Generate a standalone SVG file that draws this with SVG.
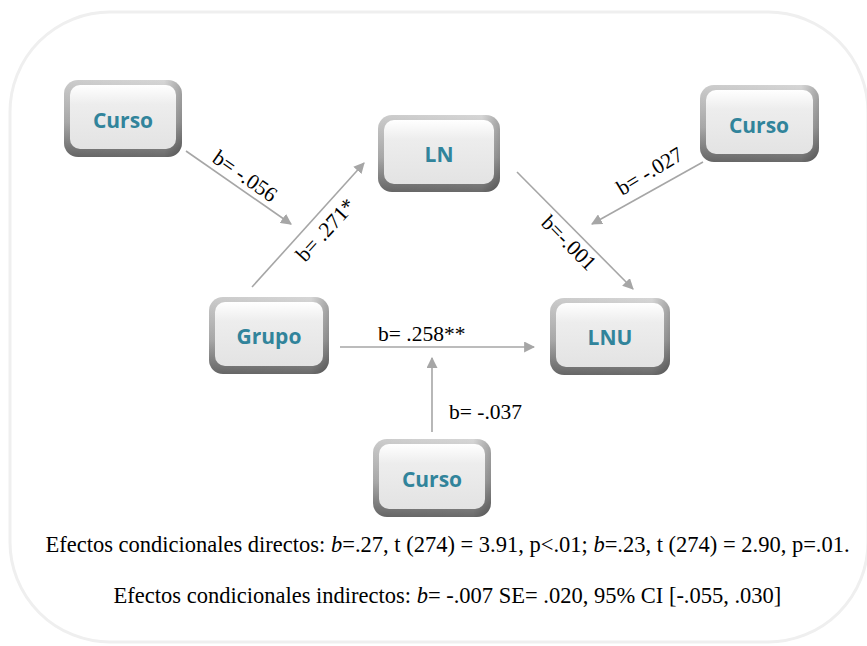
<svg xmlns="http://www.w3.org/2000/svg" width="867" height="646" viewBox="0 0 867 646">
<defs>
<linearGradient id="bevel" x1="0" y1="0" x2="0" y2="1">
<stop offset="0" stop-color="#d6d6d6"/>
<stop offset="0.55" stop-color="#b0b0b0"/>
<stop offset="1" stop-color="#6a6a6a"/>
</linearGradient>
<linearGradient id="side" x1="0" y1="0" x2="1" y2="0">
<stop offset="0" stop-color="#000" stop-opacity="0.05"/>
<stop offset="0.85" stop-color="#000" stop-opacity="0"/>
<stop offset="1" stop-color="#000" stop-opacity="0.22"/>
</linearGradient>
<linearGradient id="face" x1="0" y1="0" x2="0" y2="1">
<stop offset="0" stop-color="#ffffff"/>
<stop offset="0.3" stop-color="#ededed"/>
<stop offset="1" stop-color="#e3e3e3"/>
</linearGradient>
<marker id="ah" viewBox="0 0 10 10" refX="9" refY="5" markerWidth="11" markerHeight="11" markerUnits="userSpaceOnUse" orient="auto">
<path d="M0,0 L10,5 L0,10 z" fill="#a6a6a6"/>
</marker>
<style>
.frame{fill:none;stroke:#efefef;stroke-width:3}
.outer{fill:url(#bevel)}
.shade{fill:url(#side)}
.face{fill:url(#face)}
.lbl{font-family:"Open Sans","Liberation Sans",sans-serif;font-weight:bold;font-size:21px;fill:#31849b;text-anchor:middle}
.conn{stroke:#a6a6a6;stroke-width:1.6;fill:none;marker-end:url(#ah)}
.b{font-family:"Liberation Serif","Times New Roman",serif;font-size:21.5px;fill:#000}
.note{font-family:"Liberation Serif","Times New Roman",serif;font-size:22.5px;fill:#000;text-anchor:middle}
</style>
</defs>
<rect width="867" height="646" fill="#ffffff"/>
<rect class="frame" x="10" y="12" width="858" height="630" rx="100" ry="100"/>

<g id="connectors">
<line class="conn" x1="186" y1="151" x2="291" y2="224"/>
<text class="b" transform="translate(211,161) rotate(35)">b= -.056</text>
<line class="conn" x1="252" y1="287" x2="364" y2="163"/>
<text class="b" transform="translate(305,263) rotate(-47.5)">b= .271*</text>
<line class="conn" x1="517" y1="172" x2="633" y2="289"/>
<text class="b" transform="translate(540,224) rotate(45)">b=-.001</text>
<line class="conn" x1="703" y1="162" x2="592" y2="224"/>
<text class="b" transform="translate(622,196) rotate(-31)">b= -.027</text>
<line class="conn" x1="340" y1="347" x2="534" y2="347"/>
<text class="b" x="378" y="341">b= .258**</text>
<line class="conn" x1="432" y1="432" x2="432" y2="358"/>
<text class="b" x="449" y="419">b= -.037</text>
</g>

<g id="curso-tl">
<rect class="outer" x="64" y="80" width="118" height="77" rx="14"/>
<rect class="shade" x="64" y="80" width="118" height="77" rx="14"/>
<rect class="face" x="70" y="85" width="106" height="64" rx="10"/>
<text class="lbl" x="123" y="128">Curso</text>
</g>
<g id="ln">
<rect class="outer" x="378" y="115" width="122" height="77" rx="14"/>
<rect class="shade" x="378" y="115" width="122" height="77" rx="14"/>
<rect class="face" x="384" y="120" width="110" height="64" rx="10"/>
<text class="lbl" x="439" y="162">LN</text>
</g>
<g id="curso-tr">
<rect class="outer" x="700" y="85" width="119" height="77" rx="14"/>
<rect class="shade" x="700" y="85" width="119" height="77" rx="14"/>
<rect class="face" x="706" y="90" width="107" height="64" rx="10"/>
<text class="lbl" x="759" y="133">Curso</text>
</g>
<g id="grupo">
<rect class="outer" x="209" y="297" width="120" height="77" rx="14"/>
<rect class="shade" x="209" y="297" width="120" height="77" rx="14"/>
<rect class="face" x="215" y="302" width="108" height="64" rx="10"/>
<text class="lbl" x="269" y="344">Grupo</text>
</g>
<g id="lnu">
<rect class="outer" x="550" y="298" width="120" height="77" rx="14"/>
<rect class="shade" x="550" y="298" width="120" height="77" rx="14"/>
<rect class="face" x="556" y="303" width="108" height="64" rx="10"/>
<text class="lbl" x="610" y="345">LNU</text>
</g>
<g id="curso-b">
<rect class="outer" x="373" y="439" width="118" height="78" rx="14"/>
<rect class="shade" x="373" y="439" width="118" height="78" rx="14"/>
<rect class="face" x="379" y="444" width="106" height="65" rx="10"/>
<text class="lbl" x="432" y="487">Curso</text>
</g>

<g id="notes">
<text class="note" x="447.5" y="552">Efectos condicionales directos: <tspan font-style="italic">b</tspan>=.27, t (274) = 3.91, p&lt;.01; <tspan font-style="italic">b</tspan>=.23, t (274) = 2.90, p=.01.</text>
<text class="note" x="447.5" y="603">Efectos condicionales indirectos: <tspan font-style="italic">b</tspan>= -.007 SE= .020, 95% CI [-.055, .030]</text>
</g>
</svg>
